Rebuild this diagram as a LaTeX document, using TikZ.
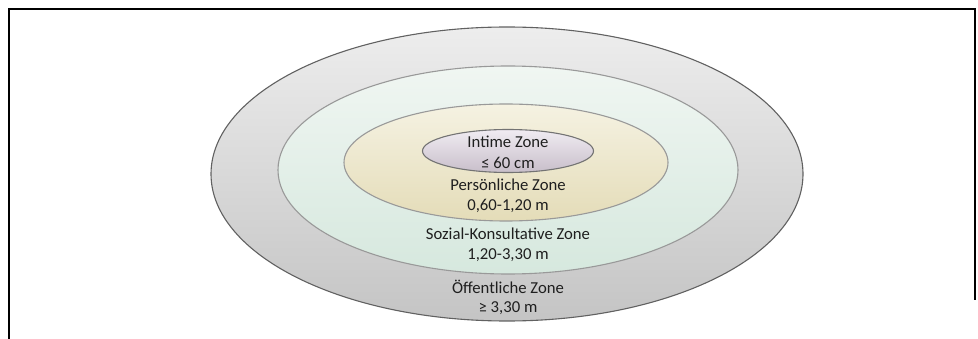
\documentclass[tikz,border=0pt]{standalone}
\usepackage{fontspec}
\setmainfont{Carlito}
\usetikzlibrary{shapes.geometric}
\tikzset{
  zone/.style={ellipse, inner sep=0pt, line width=1.1pt},
  lbl/.style={font=\fontsize{16.7}{19}\selectfont, text=black!88, inner sep=0pt, align=center},
  frame/.style={line width=2pt, black}
}
\begin{document}
\begin{tikzpicture}[x=1pt,y=-1pt]
\useasboundingbox (0,0) rectangle (978,339);
\coordinate (tl) at (9,9);
\coordinate (tr) at (975,9);
\coordinate (bl) at (9,339);
\coordinate (br) at (975,300);
\draw[frame] (bl) -- (tl) -- (tr) -- (br);
\node[zone, draw=black!62, top color=black!7, bottom color=black!23, minimum width=592pt, minimum height=294pt] (outer) at (507,174) {};
\node[zone, draw=black!40, top color={rgb,255:red,240;green,246;blue,242}, bottom color={rgb,255:red,214;green,232;blue,222}, minimum width=460pt, minimum height=208pt] (social) at (508,170) {};
\node[zone, draw=black!40, top color={rgb,255:red,245;green,242;blue,226}, bottom color={rgb,255:red,228;green,220;blue,184}, minimum width=324pt, minimum height=117pt] (personal) at (506,162.5) {};
\node[zone, draw=black!55, top color={rgb,255:red,240;green,236;blue,242}, bottom color={rgb,255:red,200;green,190;blue,202}, minimum width=171pt, minimum height=43pt] (intimate) at (508,151) {};
\node[lbl] (t1) at (508,142) {Intime Zone};
\node[lbl] (t2) at (508,163) {≤ 60 cm};
\node[lbl] (t3) at (508,185) {Persönliche Zone};
\node[lbl] (t4) at (508,206) {0,60-1,20 m};
\node[lbl] (t5) at (508,234) {Sozial-Konsultative Zone};
\node[lbl] (t6) at (508,255) {1,20-3,30 m};
\node[lbl] (t7) at (508,287) {Öffentliche Zone};
\node[lbl] (t8) at (508,308) {≥ 3,30 m};
\end{tikzpicture}
\end{document}
